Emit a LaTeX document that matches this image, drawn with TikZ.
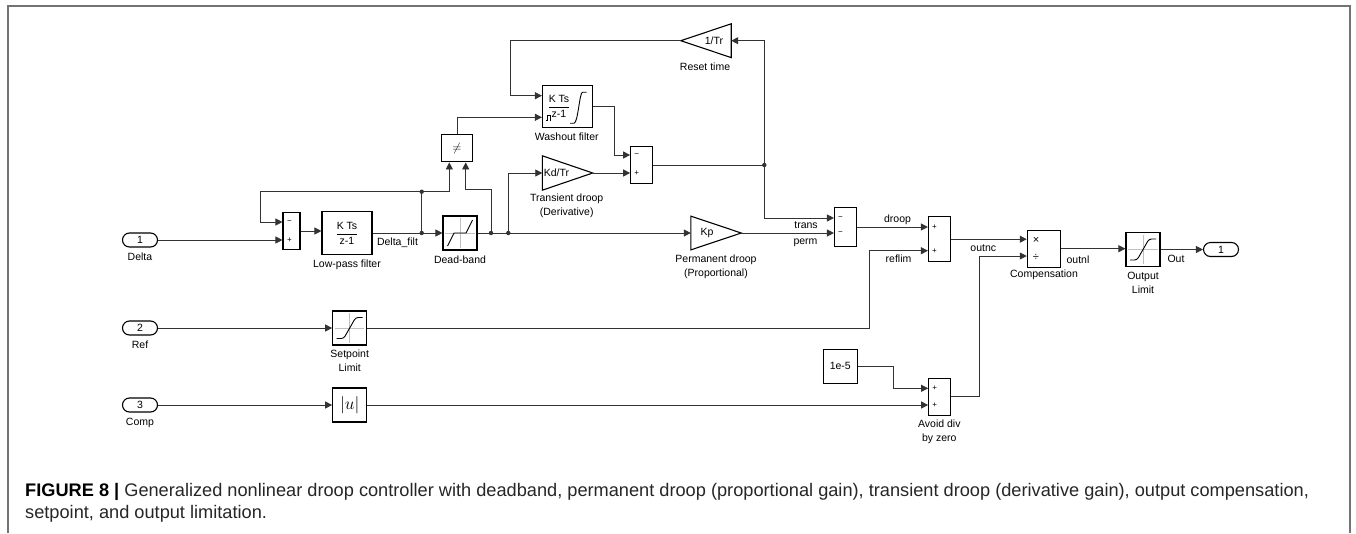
\documentclass[tikz,border=0pt]{standalone}
\usepackage{fontspec}
\setmainfont{Liberation Sans}
\usetikzlibrary{arrows.meta}

\begin{document}
\begin{tikzpicture}[x=1pt, y=-1pt,
    blk/.style={draw, line width=1.1pt, fill=white, inner sep=0pt},
    sumblk/.style={blk, minimum width=22pt, minimum height=37pt},
    sq/.style={blk, minimum width=34pt, minimum height=34pt},
    port/.style={draw, line width=1.1pt, rounded corners=7pt, minimum width=35pt, minimum height=14pt, inner sep=0pt, font=\fontsize{10.5}{12}\selectfont},
    gain/.style={inner sep=0pt, minimum width=50pt, minimum height=34pt},
    tri/.style={line width=1.1pt, line join=miter},
    wire/.style={line width=0.8pt, black!80},
    sig/.style={wire, -{Triangle[length=7pt, width=7pt]}},
    dot/.style={fill=black!80},
    lbl/.style={font=\fontsize{10.5}{13.3}\selectfont, align=center, inner sep=0pt},
    sgn/.style={font=\fontsize{8}{8}\selectfont, inner sep=0pt},
    axis/.style={black!25, line width=0.7pt},
    crv/.style={line width=0.9pt, line join=round},
    captxt/.style={anchor=base west, inner sep=0pt, font=\fontsize{18.2}{22}\selectfont, black!85}
  ]
      \useasboundingbox (0,0) rectangle (1356,533);
      \draw[black!55, line width=1.5pt] (8,533) -- (8,6) -- (1350,6) -- (1350,533);

      \node[port] (in1) at (140,240) {1};
      \node[port] (in2) at (140,328) {2};
      \node[port] (in3) at (140,405) {3};
      \node[port] (out1) at (1221,249.5) {1};
      \node[lbl] (in1L) at (140,257) {Delta};
      \node[lbl] (in2L) at (140,345) {Ref};
      \node[lbl] (in3L) at (140,422.5) {Comp};

      \node[sumblk, minimum width=17pt] (sum1) at (291.5,231) {};
      \node[sgn] (s1a) at (289.5,222) {−};
      \node[sgn] (s1b) at (289.5,240) {+};
      \node[blk, lbl, minimum width=50pt, minimum height=43pt] (lpf) at (347,233) {$\displaystyle\frac{\mbox{K Ts}}{\mbox{z-1}}$};
      \node[lbl] (lpfL) at (347,264.5) {Low-pass filter};

      \node[sq] (dz) at (460,233) {};
      \draw[axis] ([yshift=-3pt]dz.north) -- ([yshift=3pt]dz.south) ([xshift=3pt]dz.west) -- ([xshift=-3pt]dz.east);
      \draw[crv] ([shift={(-12.5,13)}]dz.center) -- ([shift={(-6,0)}]dz.center) -- ([shift={(6,0)}]dz.center) -- ([shift={(12.5,-13)}]dz.center);
      \node[lbl] (dzL) at (460,260) {Dead-band};

      \node[blk, minimum width=30.6pt, minimum height=27.7pt, font=\fontsize{13}{13}\selectfont] (ne) at (457,148) {$\neq$};

      \node[gain] (kd) at (567.5,173) {};
      \draw[tri] (kd.north west) -- (kd.east) -- (kd.south west) -- cycle;
      \node[lbl] (kdtx) at ([xshift=-11pt]kd.center) {Kd/Tr};
      \node[lbl] (kdL) at (566.7,205.7) {Transient droop\\(Derivative)};

      \node[gain, minimum height=33.4pt] (kp) at (716,233) {};
      \draw[tri] (kp.north west) -- (kp.east) -- (kp.south west) -- cycle;
      \node[lbl] (kptx) at ([xshift=-9pt]kp.center) {Kp};
      \node[lbl] (kpL) at (716,266.7) {Permanent droop\\(Proportional)};

      \node[gain, minimum height=33.4pt] (tr) at (706,40.7) {};
      \draw[tri] (tr.north east) -- (tr.west) -- (tr.south east) -- cycle;
      \node[lbl] (trtx) at ([xshift=8pt]tr.center) {1/Tr};
      \node[lbl] (trL) at (705,66.7) {Reset time};

      \node[blk, minimum width=50pt, minimum height=42pt] (wo) at (567.5,106.7) {};
      \node[lbl] (wotx) at (559,106.7) {$\displaystyle\frac{\mbox{K Ts}}{\mbox{z-1}}$};
      \draw[line width=0.5pt] ([shift={(-21.8,14)}]wo.center) -- ++(1.3,0) -- ++(0,-5.5) -- ++(2.8,0) -- ++(0,5.5) -- ++(1.3,0);
      \draw[crv] ([shift={(2.5,16.5)}]wo.center) -- ++(4,0) .. controls ++(4,0) and ++(-3,0) .. ([shift={(15,-14.5)}]wo.center) -- ++(4,0);
      \node[lbl] (woL) at (566.7,136.7) {Washout filter};

      \node[sumblk] (sum5) at (641.7,165) {};
      \node[sgn] (s5a) at (636.7,155) {−};
      \node[sgn] (s5b) at (636.7,173) {+};

      \node[sumblk, minimum height=39pt] (sum2) at (845.5,227) {};
      \node[sgn] (s2a) at (840.5,218) {−};
      \node[sgn] (s2b) at (840.5,233) {−};

      \node[sumblk, minimum height=45pt] (sum3) at (939.5,239.2) {};
      \node[sgn] (s3a) at (934.5,227) {+};
      \node[sgn] (s3b) at (934.5,250.7) {+};

      \node[blk, minimum width=33.4pt, minimum height=37.3pt] (comp) at (1044,248.7) {};
      \node[sgn, font=\fontsize{11}{11}\selectfont] (cpa) at (1036,240) {×};
      \node[sgn, font=\fontsize{11}{11}\selectfont] (cpb) at (1036,257) {÷};
      \node[lbl] (compL) at (1044,274.3) {Compensation};

      \node[sq] (olim) at (1143,249.5) {};
      \draw[axis] ([yshift=-3pt]olim.north) -- ([yshift=3pt]olim.south) ([xshift=3pt]olim.west) -- ([xshift=-3pt]olim.east);
      \draw[crv, rounded corners=2.5pt] ([shift={(-13,10.5)}]olim.center) -- ([shift={(-6,10.5)}]olim.center) -- ([shift={(6,-10.5)}]olim.center) -- ([shift={(13,-10.5)}]olim.center);
      \node[lbl] (olimL) at (1143,283) {Output\\Limit};

      \node[sq] (splim) at (349.7,328) {};
      \draw[axis] ([yshift=-3pt]splim.north) -- ([yshift=3pt]splim.south) ([xshift=3pt]splim.west) -- ([xshift=-3pt]splim.east);
      \draw[crv, rounded corners=2.5pt] ([shift={(-13,10.5)}]splim.center) -- ([shift={(-6,10.5)}]splim.center) -- ([shift={(6,-10.5)}]splim.center) -- ([shift={(13,-10.5)}]splim.center);
      \node[lbl] (splimL) at (349.7,360.7) {Setpoint\\Limit};

      \node[sq, font=\fontsize{16}{16}\selectfont] (absu) at (349.7,405) {$|u|$};
      \node[sq, lbl] (cst) at (840.3,366.3) {1e-5};

      \node[sumblk] (sum4) at (939.7,396.7) {};
      \node[sgn] (s4a) at (934.7,388.3) {+};
      \node[sgn] (s4b) at (934.7,405) {+};
      \node[lbl] (sum4L) at (939.3,431.7) {Avoid div\\by zero};

      \coordinate (j1) at (421.7,233);
      \coordinate (j1t) at (421.7,191.7);
      \coordinate (j2) at (491,233);
      \coordinate (j3) at (508.3,233);
      \coordinate (j4) at (764.3,165);

      \draw[sig] (in1.east) -- (in1.east -| sum1.west);
      \draw[sig] (sum1.east) -- (sum1.east -| lpf.west);
      \draw[sig] (lpf.east) -- (dz.west);
      \draw[wire] (j1) -- (j1t);
      \draw[sig] (j1t) -- ++(-161.4,0) |- ([yshift=9pt]sum1.west);
      \draw[sig] (j1t) -| ([xshift=-7.7pt]ne.south);
      \draw[sig] (dz.east) -- (kp.west);
      \draw[sig] (j2) -- ++(0,-43.7) -| ([xshift=8.7pt]ne.south);
      \draw[sig] (j3) |- (kd.west);
      \draw[sig] (ne.north) |- ([yshift=-10.6pt]wo.west);
      \draw[sig] (tr.west) -- ++(-170,0) |- ([yshift=11pt]wo.west);
      \draw[sig] (wo.east) -- ++(21.7,0) |- ([yshift=10pt]sum5.west);
      \draw[sig] (kd.east) -- (kd.east -| sum5.west);
      \draw[wire] (sum5.east) -- (j4);
      \draw[sig] (j4) |- (tr.east);
      \draw[sig] (j4) |- ([yshift=9pt]sum2.west);
      \draw[sig] (kp.east) -- (kp.east -| sum2.west);
      \draw[sig] (sum2.east) -- (sum2.east -| sum3.west);
      \draw[sig] (in2.east) -- (splim.west);
      \draw[sig] (splim.east) -- ++(502.3,0) |- ([yshift=-11.5pt]sum3.west);
      \draw[sig] (sum3.east) -- (sum3.east -| comp.west);
      \draw[sig] (in3.east) -- (absu.west);
      \draw[sig] (absu.east) -- (absu.east -| sum4.west);
      \draw[sig] (cst.east) -- ++(36,0) |- ([yshift=8.4pt]sum4.west);
      \draw[sig] (sum4.east) -- ++(28,0) |- ([yshift=-7.3pt]comp.west);
      \draw[sig] (comp.east) -- (comp.east -| olim.west);
      \draw[sig] (olim.east) -- (olim.east -| out1.west);

      \fill[dot] (j1) circle (2.2pt);
      \fill[dot] (j1t) circle (2.2pt);
      \fill[dot] (j2) circle (2.2pt);
      \fill[dot] (j3) circle (2.2pt);
      \fill[dot] (j4) circle (2.2pt);

      \node[lbl] (dfl) at (397.5,242.5) {Delta\_filt};
      \node[lbl] (trl) at (806,225.5) {trans};
      \node[lbl] (pml) at (805.5,242.5) {perm};
      \node[lbl] (drl) at (897.5,220) {droop};
      \node[lbl] (rfl) at (898.5,259) {reflim};
      \node[lbl] (ocl) at (983.3,247.7) {outnc};
      \node[lbl] (onl) at (1078,259.5) {outnl};
      \node[lbl] (oul) at (1176,258.5) {Out};

      \node[captxt] (cap1) at (25,496) {\textbf{\color{black}FIGURE 8 |} Generalized nonlinear droop controller with deadband, permanent droop (proportional gain), transient droop (derivative gain), output compensation,};
      \node[captxt] (cap2) at (25,518) {setpoint, and output limitation.};
    \end{tikzpicture}
\end{document}
